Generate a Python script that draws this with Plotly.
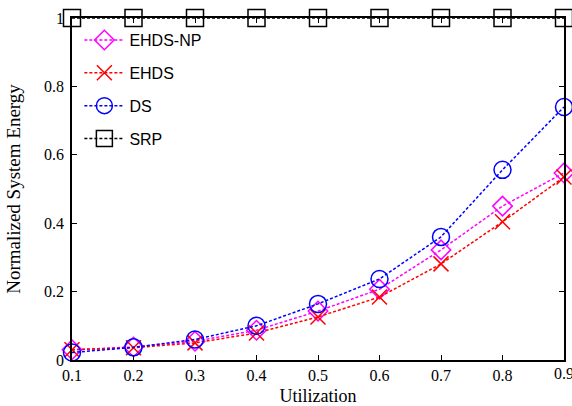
import plotly.graph_objects as go

utilization = [0.1, 0.2, 0.3, 0.4, 0.5, 0.6, 0.7, 0.8, 0.9]
ehds_np = [0.03, 0.038, 0.055, 0.087, 0.143, 0.207, 0.322, 0.45, 0.547]
ehds = [0.03, 0.036, 0.05, 0.079, 0.126, 0.184, 0.281, 0.404, 0.535]
ds = [0.022, 0.037, 0.06, 0.1, 0.164, 0.237, 0.36, 0.556, 0.74]
srp = [1, 1, 1, 1, 1, 1, 1, 1, 1]

x_ticks = [0.1, 0.2, 0.3, 0.4, 0.5, 0.6, 0.7, 0.8, 0.9]
x_labels = ["0.1", "0.2", "0.3", "0.4", "0.5", "0.6", "0.7", "0.8", "0.9"]
y_ticks = [0, 0.2, 0.4, 0.6, 0.8, 1]
y_labels = ["0", "0.2", "0.4", "0.6", "0.8", "1"]

series = [
    ("EHDS-NP", ehds_np, "#ff00ff", "diamond-open", 15),
    ("EHDS", ehds, "#ff0000", "x-thin-open", 15),
    ("DS", ds, "#0000ff", "circle-open", 17),
    ("SRP", srp, "#000000", "square-open", 17),
]

fig = go.Figure()
for name, vals, color, sym, size in series:
    fig.add_trace(go.Scatter(
        x=utilization, y=vals, name=name, mode="lines+markers",
        legendgroup=name,
        line=dict(color=color, width=1.5, dash="3px,2px"),
        marker=dict(symbol=sym, size=size, color=color,
                    line=dict(color=color, width=1.5)),
        cliponaxis=False,
    ))

serif = "Liberation Serif, Times New Roman, serif"

# last x tick label overflows the page edge in the reference; draw it explicitly
fig.add_annotation(x=x_ticks[-1], y=0, xref="x", yref="paper", text=x_labels[-1],
                   showarrow=False, yanchor="top", yshift=-3,
                   font=dict(family=serif, size=16, color="black"))

fig.update_layout(
    width=572, height=406,
    margin=dict(l=72, r=8, t=18, b=46),
    paper_bgcolor="white", plot_bgcolor="white",
    showlegend=True,
    legend=dict(x=0.015, y=0.985, xanchor="left", yanchor="top",
                bgcolor="rgba(0,0,0,0)", borderwidth=0,
                font=dict(family="Liberation Sans, Arial, sans-serif", size=16, color="black"),
                itemwidth=40, tracegroupgap=9),
    xaxis=dict(range=[0.1, 0.9], tickvals=x_ticks[:-1], ticktext=x_labels[:-1],
               automargin=False,
               showgrid=False, zeroline=False, showline=True, linecolor="black",
               linewidth=1.5, mirror="ticks", ticks="inside", ticklen=5,
               tickcolor="black",
               tickfont=dict(family=serif, size=16, color="black"),
               title=dict(text="Utilization", font=dict(family=serif, size=18, color="black"),
                          standoff=6)),
    yaxis=dict(range=[0, 1], tickvals=y_ticks, ticktext=y_labels,
               automargin=False, ticklabelstandoff=3,
               showgrid=False, zeroline=False, showline=True, linecolor="black",
               linewidth=1.5, mirror="ticks", ticks="inside", ticklen=5,
               tickcolor="black",
               tickfont=dict(family=serif, size=16, color="black"),
               title=dict(text="Normalized System Energy",
                          font=dict(family=serif, size=19, color="black"),
                          standoff=18)),
)

fig.write_html("out.html")
